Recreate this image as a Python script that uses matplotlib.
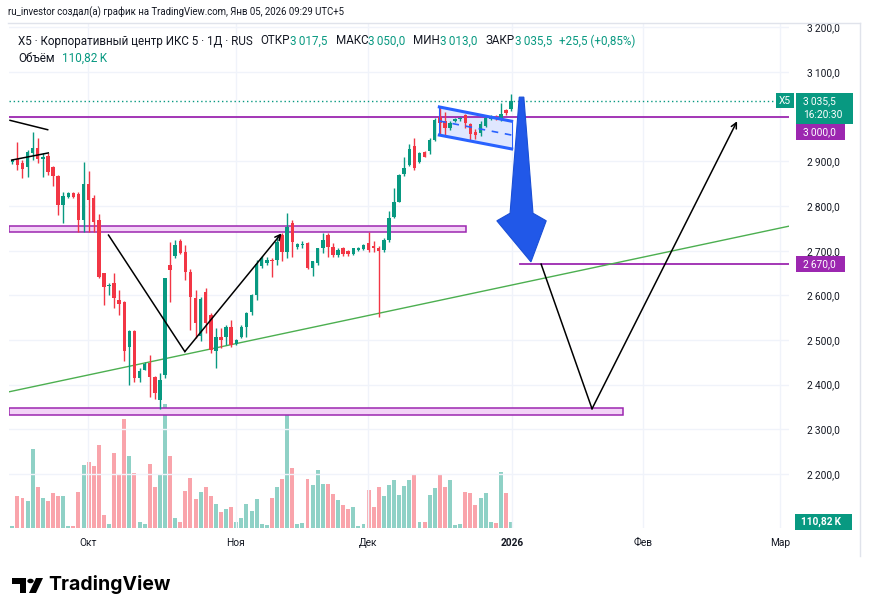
import matplotlib
matplotlib.use("Agg")
import matplotlib.pyplot as plt
from matplotlib.patches import Rectangle, Polygon, Circle
from matplotlib import font_manager as fm

# daily candles X5, Sep 2025 - Jan 2026
open_ = [2898, 2905, 2896, 2888, 2918, 2929, 2905, 2912, 2887, 2867,
         2802, 2820, 2830, 2827, 2769, 2849, 2817, 2769, 2649, 2620,
         2627, 2590, 2586, 2485, 2521, 2414, 2433, 2448, 2418, 2366,
         2422, 2668, 2688, 2722, 2698, 2653, 2594, 2510, 2608, 2557,
         2476, 2507, 2507, 2530, 2491, 2506, 2530, 2563, 2601, 2665,
         2673, 2680, 2679, 2735, 2698, 2761, 2708, 2712, 2718, 2661,
         2672, 2705, 2735, 2709, 2690, 2705, 2700, 2693, 2702, 2704,
         2718, 2710, 2705, 2701, 2724, 2776, 2810, 2871, 2893, 2935,
         2899, 2920, 2923, 2948, 3000, 2990, 2975, 2991, 2994, 3003,
         2983, 2965, 2963, 2980, 2996, 3000, 2993, 3015, 3017.5]
high = [2905, 2944, 2903, 2925, 2966, 2952, 2918, 2918, 2889, 2869,
        2832, 2832, 2831, 2832, 2899, 2879, 2825, 2782, 2651, 2627,
        2649, 2612, 2588, 2522, 2522, 2437, 2450, 2466, 2420, 2427,
        2640, 2720, 2724, 2726, 2713, 2660, 2612, 2597, 2616, 2560,
        2526, 2526, 2533, 2545, 2503, 2534, 2563, 2604, 2679, 2688,
        2685, 2684, 2733, 2739, 2784, 2769, 2717, 2721, 2720, 2678,
        2707, 2740, 2740, 2717, 2705, 2709, 2702, 2707, 2708, 2714,
        2743, 2722, 2710, 2728, 2790, 2840, 2872, 2910, 2938, 2952,
        2921, 2923, 2952, 2997, 3022, 3011, 2990, 2997, 3000, 3007,
        2985, 2972, 2990, 3001, 3003, 3004, 3031, 3018, 3050]
low = [2895, 2881, 2862, 2866, 2903, 2896, 2866, 2869, 2845, 2780,
       2761, 2818, 2819, 2742, 2742, 2742, 2742, 2638, 2578, 2601,
       2571, 2556, 2454, 2399, 2407, 2407, 2432, 2372, 2367, 2345,
       2415, 2586, 2684, 2692, 2634, 2522, 2504, 2497, 2516, 2472,
       2437, 2483, 2488, 2485, 2489, 2504, 2507, 2555, 2590, 2662,
       2668, 2641, 2668, 2676, 2683, 2687, 2703, 2707, 2659, 2643,
       2668, 2694, 2687, 2685, 2686, 2688, 2688, 2690, 2700, 2702,
       2698, 2698, 2552, 2697, 2720, 2774, 2808, 2868, 2890, 2881,
       2896, 2909, 2917, 2946, 2961, 2959, 2970, 2988, 2991, 2975,
       2948, 2950, 2958, 2977, 2993, 2993, 2990, 3005, 3013]
close = [2903, 2892, 2882, 2922, 2929, 2905, 2909, 2877, 2867, 2802,
         2822, 2830, 2821, 2769, 2849, 2813, 2765, 2642, 2618, 2624,
         2593, 2580, 2476, 2521, 2414, 2431, 2446, 2417, 2381, 2410,
         2638, 2657, 2713, 2694, 2653, 2597, 2538, 2592, 2537, 2478,
         2506, 2500, 2530, 2489, 2500, 2530, 2560, 2601, 2670, 2684,
         2680, 2676, 2720, 2698, 2754, 2720, 2714, 2716, 2661, 2676,
         2705, 2724, 2709, 2690, 2701, 2692, 2693, 2705, 2706, 2712,
         2701, 2705, 2700, 2724, 2773, 2810, 2869, 2885, 2928, 2886,
         2918, 2911, 2948, 2992, 2985, 2974, 2985, 2994, 2998, 2985,
         2961, 2960, 2983, 2997, 2999, 2996, 3006, 3008, 3035.5]
# volume, thousands
volume_k = [33, 617, 584, 519, 1531, 792, 578, 519, 675, 617,
            617, 39, 39, 694, 1220, 1284, 1200, 1609, 247, 72,
            1453, 1037, 2114, 1395, 1064, 111, 72, 1239, 792, 1025,
            2418, 1395, 189, 111, 714, 967, 558, 694, 792, 617,
            461, 305, 364, 403, 111, 189, 461, 325, 558, 72,
            53, 578, 792, 947, 2289, 1161, 72, 91, 947, 831,
            1122, 850, 850, 655, 539, 442, 364, 403, 39, 72,
            733, 403, 792, 617, 831, 928, 636, 811, 928, 1025,
            111, 111, 636, 772, 1037, 792, 928, 53, 72, 694,
            675, 442, 578, 675, 111, 91, 1083, 675, 110.82]

month_pos = [14.9, 43.9, 69.9, 98.2, 123.9, 150.8]
month_labels = ["Окт", "Ноя", "Дек", "2026", "Фев", "Мар"]
price_ticks = list(range(2200, 3201, 100))

# drawings on the chart (bar index, price)
level_3000 = 3000
level_2670 = 2670
zone_top = (2741, 2756, 89.1)      # low, high, right end
zone_bottom = (2332, 2347, 120.0)
trend_green = [(-0.65, 2384), (152.6, 2755)]
line_a = [(-0.45, 2992), (6.95, 2971)]
line_b = [(-0.12, 2903), (7.07, 2919)]
path_v1 = [(18.9, 2735), (33.9, 2474), (52.9, 2739)]
path_v2 = [(103.9, 2670), (113.9, 2346), (142.4, 2990)]
flag = [(83.9, 3022), (98.1, 2990), (98.1, 2928), (83.9, 2959)]
big_arrow = [(99.6, 3044), (100.5, 3044), (102.3, 2784), (104.9, 2767),
             (101.9, 2675), (95.2, 2767), (97.8, 2784)]

GREEN = "#089981"
RED = "#f23645"
PURPLE = "#9c27b0"
BLUE = "#2962ff"
TEXT = "#131722"
W, H = 870, 616

names = {f.name for f in fm.fontManager.ttflist}
NARROW = "Liberation Sans Narrow" in names
UI = ["Liberation Sans Narrow" if NARROW else "Roboto", "DejaVu Sans"]
TICK_FS = 9 if NARROW else 7.3

fig = plt.figure(figsize=(W / 100, H / 100), dpi=100)
rect = [9 / W, 1 - 528 / H, 780 / W, 505 / H]
ax_vol = fig.add_axes(rect)
ax = fig.add_axes(rect, sharex=ax_vol)
ax.set_zorder(ax_vol.get_zorder() + 1)
ax.patch.set_visible(False)

idx = list(range(len(close)))
up = [c >= o for o, c in zip(open_, close)]

# volume
vcol = [GREEN if u else RED for u in up]
ax_vol.bar(idx, volume_k, width=0.78, color=vcol, alpha=0.45, linewidth=0)
ax_vol.set_ylim(0, 9822)
ax_vol.axis("off")

# candles
ccol = [GREEN if u else RED for u in up]
ax.vlines(idx, low, high, colors=ccol, linewidth=1, zorder=4)
bh = [max(abs(c - o), 1.8) for o, c in zip(open_, close)]
bb = [min(o, c) for o, c in zip(open_, close)]
ax.bar(idx, bh, bottom=bb, width=0.68, color=ccol, linewidth=0, zorder=5)

ax.set_xlim(-0.65, 152.6)
ax.set_ylim(2079, 3210)


def price_fmt(v, p):
    # 3000 is covered by the level label on the scale
    if int(v) == level_3000:
        return ""
    return f"{int(v):,}".replace(",", "\u2009") + ",0"


# grid and ticks
ax.set_xticks(month_pos)
ax.set_xticklabels(month_labels)
ax.set_yticks(price_ticks)
ax.yaxis.set_major_formatter(price_fmt)
ax.yaxis.tick_right()
ax.grid(color="#f0f3fa", linewidth=1, zorder=0)
ax.tick_params(axis="y", length=0, pad=13, labelsize=TICK_FS, labelcolor=TEXT)
ax.tick_params(axis="x", length=0, pad=7, labelsize=TICK_FS, labelcolor=TEXT)
for lab in ax.get_yticklabels() + ax.get_xticklabels():
    lab.set_family(UI)
ax.get_xticklabels()[3].set_fontweight("bold")
for s in ax.spines.values():
    s.set_visible(False)

# horizontal levels and zones
ax.axhline(level_3000, color=PURPLE, linewidth=1.3, zorder=3)
ax.plot([99.7, 152.6], [level_2670, level_2670], color=PURPLE, linewidth=1.3, zorder=3)
for lo, hi, right in (zone_top, zone_bottom):
    ax.add_patch(Rectangle((-0.65, lo), right + 0.65, hi - lo, facecolor="#f3d4f7",
                           edgecolor=PURPLE, linewidth=1.1, zorder=2))
ax.plot(*zip(*trend_green), color="#4caf50", linewidth=1, zorder=3)
ax.axhline(close[-1], color=GREEN, linestyle=(0, (1, 2)), linewidth=1, zorder=3)

# hand drawn lines
for pts in (line_a, line_b):
    ax.plot(*zip(*pts), color="black", linewidth=1.1, zorder=6)
for pts in (path_v1, path_v2):
    ax.plot(*zip(*pts[:2]), color="black", linewidth=1.1, zorder=6)
    ax.annotate("", xy=pts[2], xytext=pts[1],
                arrowprops=dict(arrowstyle="->", color="black", lw=1.1,
                                shrinkA=0, shrinkB=0, mutation_scale=10), zorder=6)

# bull flag
ax.add_patch(Polygon(flag, closed=True, facecolor=BLUE, alpha=0.15, edgecolor="none", zorder=2))
ax.plot([flag[3][0], flag[0][0]], [flag[3][1], flag[0][1]], color=BLUE, lw=0.8, zorder=6)
ax.plot([flag[1][0], flag[2][0]], [flag[1][1], flag[2][1]], color=BLUE, lw=0.8, zorder=6)
ax.plot([flag[0][0], flag[1][0]], [flag[0][1], flag[1][1]], color=BLUE, lw=2.2, zorder=6)
ax.plot([flag[3][0], flag[2][0]], [flag[3][1], flag[2][1]], color=BLUE, lw=2.2, zorder=6)
mid = [(flag[0][1] + flag[3][1]) / 2, (flag[1][1] + flag[2][1]) / 2]
ax.plot([flag[0][0], flag[1][0]], mid, color=BLUE, lw=1.2, linestyle=(0, (4, 4)), zorder=6)

ax.add_patch(Polygon(big_arrow, closed=True, facecolor="#2158e8", edgecolor="#1a4fd6",
                     linewidth=0.8, zorder=7))

# ---- labels on the price scale


def box(x0, x1, y0, y1, color):
    fig.add_artist(Rectangle((x0 / W, y0 / H), (x1 - x0) / W, (y1 - y0) / H,
                             transform=fig.transFigure, facecolor=color,
                             edgecolor="none", zorder=20))


def btext(x, y, s, ha="left", weight="normal", size=TICK_FS):
    fig.text(x / W, y / H, s, color="white", ha=ha, va="center", fontsize=size,
             family=UI, fontweight=weight, zorder=21)


cur_y = ax.transData.transform((0, close[-1]))[1]
box(796, 853, cur_y - 23, cur_y + 8, GREEN)
btext(803, cur_y, "3\u2009035,5")
btext(803, cur_y - 14, "16:20:30")
box(776, 794, cur_y - 7.5, cur_y + 7.5, GREEN)
btext(785, cur_y, "X5", ha="center")

y3000 = ax.transData.transform((0, level_3000))[1] - 15
box(796, 845, y3000 - 8, y3000 + 8, PURPLE)
btext(803, y3000, "3\u2009000,0")

y2670 = ax.transData.transform((0, level_2670))[1]
box(796, 845, y2670 - 8, y2670 + 8, PURPLE)
btext(803, y2670, "2\u2009670,0")

yv = ax_vol.transData.transform((0, volume_k[-1]))[1]
box(795, 852, yv - 8, yv + 8, GREEN)
btext(801, yv, "110,82\u2009K", weight="bold")

# ---- header lines, fitted to the widths seen in the screenshot
renderer = fig.canvas.get_renderer()


def header(pieces, x0, yimg, target, fs0=9.0, weight="normal", fam=UI):
    gaps = sum(g for _, _, g in pieces)

    def draw(fs):
        out = []
        x = x0
        for s, c, g in pieces:
            x += g
            t = fig.text(x / W, 1 - yimg / H, s, color=c, fontsize=fs, ha="left",
                         va="center", family=fam, fontweight=weight)
            x += t.get_window_extent(renderer).width
            out.append(t)
        return out, x - x0 - gaps

    texts, w = draw(fs0)
    for t in texts:
        t.remove()
    draw(fs0 * (target - gaps) / w)


header([("ru_investor создал(а) график на TradingView.com, Янв 05, 2026 09:29 UTC+5", TEXT, 0)],
       8, 12, 340)
header([("X5 · Корпоративный центр ИКС 5 · 1Д · RUS", TEXT, 0),
        ("ОТКР", TEXT, 8), ("3\u2009017,5", GREEN, 0),
        ("МАКС", TEXT, 8), ("3\u2009050,0", GREEN, 0),
        ("МИН", TEXT, 8), ("3\u2009013,0", GREEN, 0),
        ("ЗАКР", TEXT, 8), ("3\u2009035,5", GREEN, 0),
        ("+25,5 (+0,85%)", GREEN, 7)], 18, 41, 618)
header([("Объём", TEXT, 0), ("110,82\u2009K", GREEN, 7)], 18, 58, 89)

# frame
fig.add_artist(plt.Line2D([8 / W, 860 / W], [1 - 23 / H, 1 - 23 / H], color="#e0e3eb", lw=1,
                          transform=fig.transFigure))
fig.add_artist(plt.Line2D([860 / W, 860 / W], [1 - 23 / H, 1 - 556 / H], color="#e0e3eb", lw=1,
                          transform=fig.transFigure))

# TradingView logo
logo = [Polygon([(12, 578), (26, 578), (26, 593), (20, 593), (20, 584), (12, 584)]),
        Circle((30.5, 581), 3.2),
        Polygon([(36, 578), (43, 578), (36, 593), (29, 593)])]
for p in logo:
    if isinstance(p, Circle):
        p = Circle((p.center[0] / W, 1 - p.center[1] / H), p.radius / W)
    else:
        p = Polygon([(x / W, 1 - y / H) for x, y in p.get_xy()])
    p.set_transform(fig.transFigure)
    p.set_facecolor("black")
    p.set_edgecolor("none")
    fig.add_artist(p)
header([("TradingView", "black", 0)], 48, 585, 122, weight="bold", fam=["Inter", "DejaVu Sans"])

fig.savefig("out.png", dpi=100)
